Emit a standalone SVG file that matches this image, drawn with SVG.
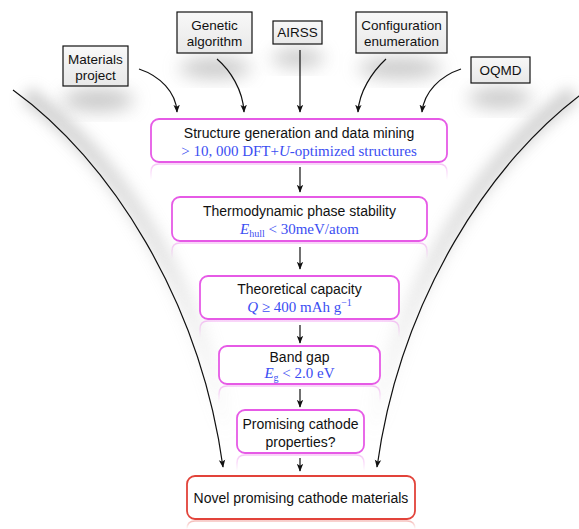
<svg xmlns="http://www.w3.org/2000/svg" width="579" height="529" viewBox="0 0 579 529">
<defs>
<style>
.src rect{fill:url(#srcFill);stroke:#111;stroke-width:1.2}
.lbl{font-family:"Liberation Sans","Helvetica",Arial,sans-serif;fill:#111;text-anchor:middle}
.src text{font-size:13.5px}
.step rect.box{fill:#fff;stroke:#e65ae6;stroke-width:1.8}
.final rect.box{fill:#fff;stroke:#e2433a;stroke-width:1.8}
.step text.lbl{font-size:14px}
.math{font-family:"Liberation Serif","Times New Roman",serif;fill:#3b4ef2;text-anchor:middle;font-size:15px}
.conn path{fill:none;stroke:#111;stroke-width:1.2}
.refl{fill:none;stroke-width:1.6}
.shadow{fill:#9a9a9a;filter:url(#blur)}
</style>
<linearGradient id="srcFill" x1="0" y1="0" x2="0" y2="1">
<stop offset="0" stop-color="#f8f8f8"/>
<stop offset="1" stop-color="#e8e8e8"/>
</linearGradient>
<linearGradient id="reflPink" x1="0" y1="0" x2="0" y2="1">
<stop offset="0" stop-color="#e65ae6" stop-opacity="0.35"/>
<stop offset="1" stop-color="#e65ae6" stop-opacity="0"/>
</linearGradient>
<linearGradient id="reflRed" x1="0" y1="0" x2="0" y2="1">
<stop offset="0" stop-color="#e2433a" stop-opacity="0.35"/>
<stop offset="1" stop-color="#e2433a" stop-opacity="0"/>
</linearGradient>
<linearGradient id="funnelShade" gradientUnits="userSpaceOnUse" x1="0" y1="90" x2="0" y2="440">
<stop offset="0" stop-color="#a8a8a8" stop-opacity="0.9"/>
<stop offset="0.45" stop-color="#b8b8b8" stop-opacity="0.6"/>
<stop offset="1" stop-color="#cccccc" stop-opacity="0"/>
</linearGradient>
<filter id="blur" x="-50%" y="-50%" width="200%" height="200%">
<feGaussianBlur stdDeviation="9"/>
</filter>
<filter id="blur2" x="-50%" y="-50%" width="200%" height="200%">
<feGaussianBlur stdDeviation="7"/>
</filter>
<marker id="arr" viewBox="0 0 10 10" refX="9" refY="5" markerWidth="8" markerHeight="8" orient="auto" markerUnits="userSpaceOnUse">
<path d="M0,1 L10,5 L0,9 L2.5,5 z" fill="#111"/>
</marker>
</defs>
<rect width="579" height="529" fill="#fff"/>

<!-- soft shadows -->
<g id="shadows">
<g opacity="0.55">
<ellipse class="shadow" cx="98" cy="100" rx="36" ry="11"/>
<ellipse class="shadow" cx="215" cy="68" rx="36" ry="10"/>
<ellipse class="shadow" cx="298" cy="58" rx="26" ry="9"/>
<ellipse class="shadow" cx="400" cy="68" rx="42" ry="10"/>
<ellipse class="shadow" cx="500" cy="98" rx="32" ry="10"/>
</g>
<path d="M26,94 C122,164 208,300 231,460" fill="none" stroke="url(#funnelShade)" stroke-width="18" filter="url(#blur2)" opacity="0.6"/>
<path d="M574,94 C478,164 392,300 369,460" fill="none" stroke="url(#funnelShade)" stroke-width="18" filter="url(#blur2)" opacity="0.6"/>
</g>

<!-- reflections -->
<g id="reflections">
<path class="refl" stroke="url(#reflPink)" d="M151,180 V172 Q151,164 159,164 H439 Q447,164 447,172 V180"/>
<path class="refl" stroke="url(#reflPink)" d="M172,259 V251 Q172,243 180,243 H419 Q427,243 427,251 V259"/>
<path class="refl" stroke="url(#reflPink)" d="M200,337 V329 Q200,321 208,321 H391 Q399,321 399,329 V337"/>
<path class="refl" stroke="url(#reflPink)" d="M219,402 V394 Q219,386 227,386 H372 Q380,386 380,394 V402"/>
<path class="refl" stroke="url(#reflPink)" d="M237,471 V463 Q237,455 245,455 H356 Q364,455 364,463 V471"/>
<path class="refl" stroke="url(#reflRed)" d="M187,529 Q187,521 195,521 H407 Q415,521 415,529"/>
</g>

<g id="connectors" class="conn">
<path d="M139,69 C160,76 176,92 177,112" marker-end="url(#arr)"/>
<path d="M217,59 C230,70 243,90 244,112" marker-end="url(#arr)"/>
<path d="M300,50 V112" marker-end="url(#arr)"/>
<path d="M386,59 C372,72 359,92 358,112" marker-end="url(#arr)"/>
<path d="M461,69 C440,76 424,92 422,112" marker-end="url(#arr)"/>
<path d="M300,167 V192" marker-end="url(#arr)"/>
<path d="M300,247 V269" marker-end="url(#arr)"/>
<path d="M300,325 V343" marker-end="url(#arr)"/>
<path d="M300,389 V407" marker-end="url(#arr)"/>
<path d="M300,458 V471" marker-end="url(#arr)"/>
<path d="M13,90 C110,160 200,300 223,467" marker-end="url(#arr)"/>
<path d="M587,90 C490,160 400,300 377,467" marker-end="url(#arr)"/>
</g>

<g id="materials-project" class="src">
<rect x="63" y="46" width="65" height="40"/>
<text class="lbl" x="95.5" y="64">Materials</text>
<text class="lbl" x="95.5" y="80">project</text>
</g>
<g id="genetic-algorithm" class="src">
<rect x="177" y="12" width="75" height="41"/>
<text class="lbl" x="214.5" y="30">Genetic</text>
<text class="lbl" x="214.5" y="46">algorithm</text>
</g>
<g id="airss" class="src">
<rect x="273" y="21" width="49" height="23"/>
<text class="lbl" x="297.5" y="37">AIRSS</text>
</g>
<g id="configuration-enumeration" class="src">
<rect x="356" y="12" width="91" height="41"/>
<text class="lbl" x="401.5" y="30">Configuration</text>
<text class="lbl" x="401.5" y="46">enumeration</text>
</g>
<g id="oqmd" class="src">
<rect x="471" y="57" width="59" height="26"/>
<text class="lbl" x="500.5" y="75">OQMD</text>
</g>

<g id="structure-generation" class="step">
<rect class="box" x="151" y="119" width="296" height="43" rx="8"/>
<text class="lbl" x="299" y="138">Structure generation and data mining</text>
<text class="math" x="299" y="156">&gt; 10, 000 DFT+<tspan font-style="italic">U</tspan>-optimized structures</text>
</g>
<g id="thermodynamic-stability" class="step">
<rect class="box" x="172" y="197" width="255" height="44" rx="8"/>
<text class="lbl" x="299.5" y="216">Thermodynamic phase stability</text>
<text class="math" x="299.5" y="234"><tspan font-style="italic">E</tspan><tspan font-size="10" dy="3">hull</tspan><tspan dy="-3"> &lt; 30meV/atom</tspan></text>
</g>
<g id="theoretical-capacity" class="step">
<rect class="box" x="200" y="276" width="199" height="43" rx="8"/>
<text class="lbl" x="299.5" y="294">Theoretical capacity</text>
<text class="math" x="299.5" y="312"><tspan font-style="italic">Q</tspan> ≥ 400 mAh g<tspan font-size="10" dy="-6">−1</tspan></text>
</g>
<g id="band-gap" class="step">
<rect class="box" x="219" y="346" width="161" height="38" rx="8"/>
<text class="lbl" x="299.5" y="362">Band gap</text>
<text class="math" x="299.5" y="378"><tspan font-style="italic">E</tspan><tspan font-size="10" dy="3">g</tspan><tspan dy="-3"> &lt; 2.0 eV</tspan></text>
</g>
<g id="promising-properties" class="step">
<rect class="box" x="237" y="410" width="127" height="43" rx="8"/>
<text class="lbl" x="300.5" y="429">Promising cathode</text>
<text class="lbl" x="300.5" y="447">properties?</text>
</g>
<g id="novel-materials" class="final">
<rect class="box" x="187" y="476" width="228" height="43" rx="8"/>
<text class="lbl" x="301" y="503" font-size="14">Novel promising cathode materials</text>
</g>
</svg>
